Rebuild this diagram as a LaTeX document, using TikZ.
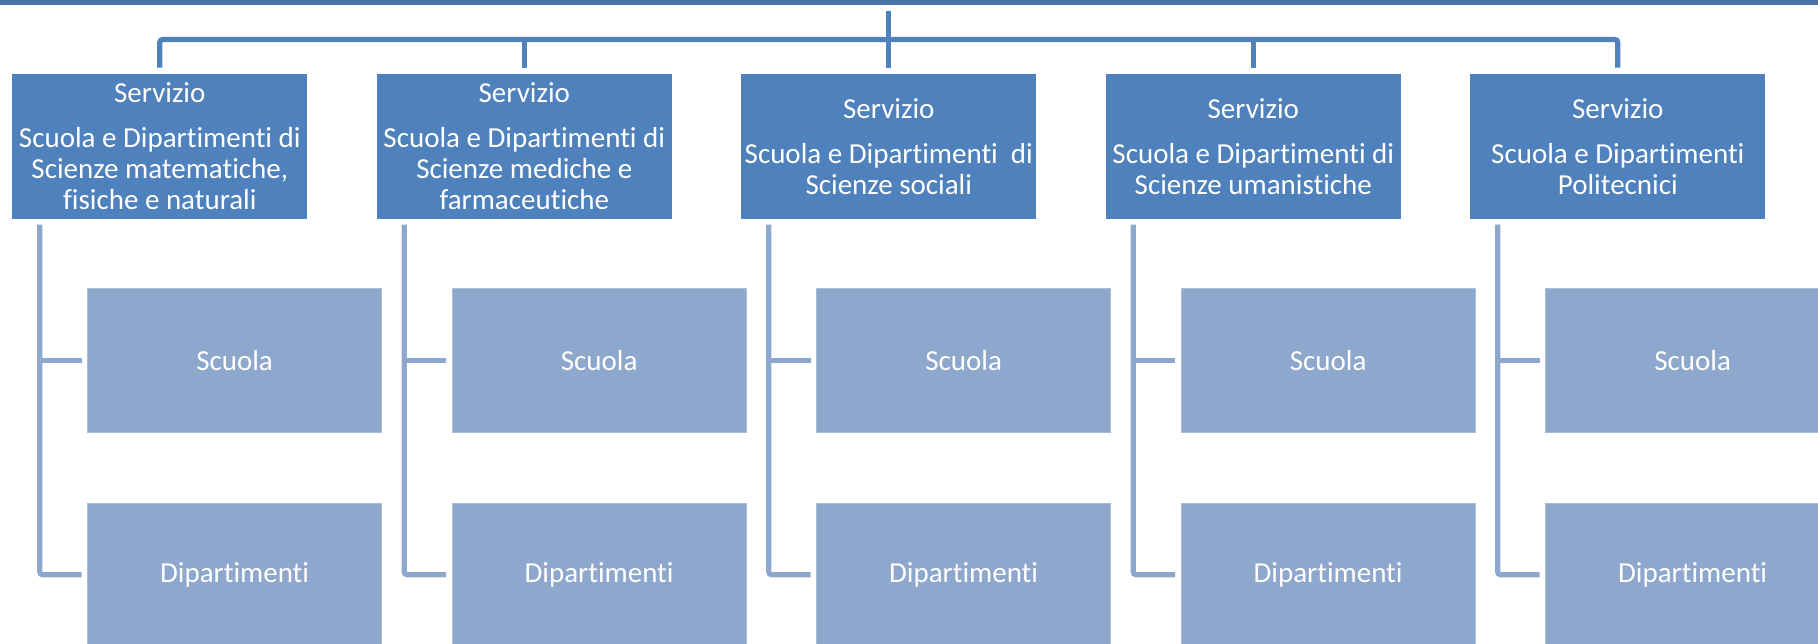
\documentclass[tikz,border=0pt]{standalone}
\usepackage{fontspec}
\setmainfont{Carlito}[RawFeature={-liga;-clig;-rlig;-calt;-dlig}]
\usetikzlibrary{positioning}

\definecolor{headblue}{RGB}{72,115,168}
\definecolor{servblue}{RGB}{79,129,189}
\definecolor{childblue}{RGB}{142,167,205}

\tikzset{
  servbox/.style={fill=servblue, text=white, minimum width=147.5pt, minimum height=72.3pt,
    inner sep=1pt, align=center, font=\fontsize{14.5}{15.5}\selectfont},
  childbox/.style={fill=childblue, draw=childblue!75!white, line width=0.4pt, text=white,
    minimum width=147.1pt, minimum height=71.9pt, font=\fontsize{14.5}{17}\selectfont},
  topline/.style={servblue, line width=2.6pt, rounded corners=1.5pt},
  subline/.style={childblue, line width=2.6pt, rounded corners=1.5pt}
}

\begin{document}
\begin{tikzpicture}[x=0.5pt, y=-0.5pt]
\useasboundingbox (0,0) rectangle (1818,643);

% Top box, only its lower edge is visible
\node[fill=headblue, minimum width=909pt, minimum height=20pt, inner sep=0pt, anchor=south west] (head) at (0,5) {};
\coordinate (hub) at (887.5,11);
\coordinate (bus) at (887.5,39.5);

% Servizi
\node[servbox] (s1) at (159.8,146.4) {Servizio\\[7pt]Scuola e Dipartimenti di\\Scienze matematiche,\\fisiche e naturali};
\node[servbox, right=34.35pt of s1] (s2) {Servizio\\[7pt]Scuola e Dipartimenti di\\Scienze mediche e\\farmaceutiche};
\node[servbox, right=34.35pt of s2] (s3) {Servizio\\[7pt]Scuola e Dipartimenti\ \ di\\Scienze sociali};
\node[servbox, right=34.35pt of s3] (s4) {Servizio\\[7pt]Scuola e Dipartimenti di\\Scienze umanistiche};
\node[servbox, right=34.35pt of s4] (s5) {Servizio\\[7pt]Scuola e Dipartimenti\\Politecnici};

% Connectors from the top
\draw[topline] (s3.north |- hub) -- ([yshift=3pt]s3.north);
\draw[topline] ([yshift=3pt]s1.north) |- (bus) -| ([yshift=3pt]s5.north);
\foreach \i in {2,4}
  \draw[topline] ([yshift=3pt]s\i.north) -- (s\i.north |- bus);

% Scuola and Dipartimenti under each Servizio
\foreach \i in {1,...,5}{
  \node[childbox, anchor=north west] (c\i) at ([xshift=37.6pt,yshift=-34.5pt]s\i.south west) {Scuola};
  \node[childbox, below=34.9pt of c\i] (d\i) {Dipartimenti};
  \coordinate (t\i) at ([xshift=13.9pt,yshift=-2.7pt]s\i.south west);
  \draw[subline] (t\i) |- ([xshift=-2.8pt]d\i.west);
  \draw[subline] (t\i |- c\i.west) -- ([xshift=-2.8pt]c\i.west);
}
\end{tikzpicture}
\end{document}
